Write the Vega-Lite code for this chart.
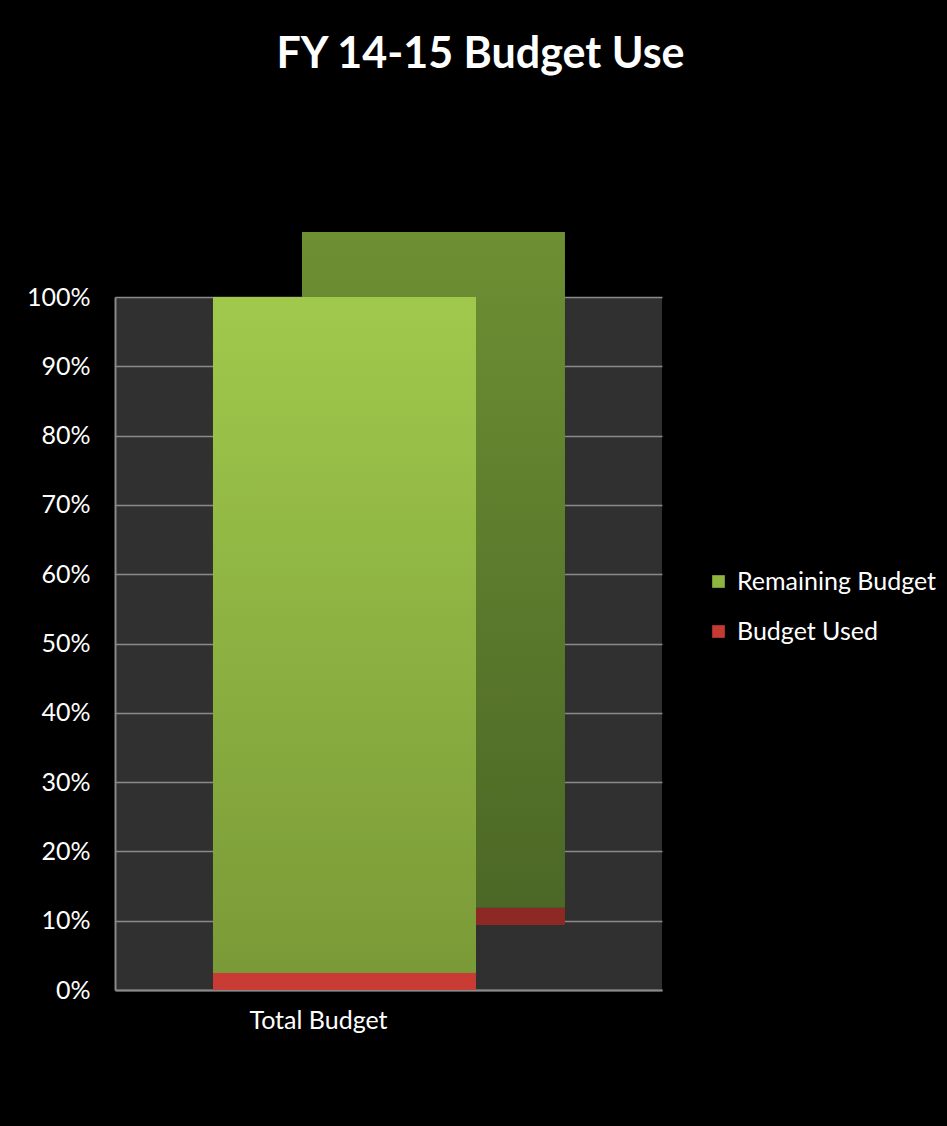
{
  "$schema": "https://vega.github.io/schema/vega-lite/v6.json",
  "autosize": "none",
  "width": 547,
  "height": 693,
  "padding": {"left": 115, "top": 297, "right": 285, "bottom": 136},
  "background": "#000000",
  "title": {
    "text": "FY 14-15 Budget Use",
    "font": "Lato",
    "fontSize": 43,
    "fontWeight": "bold",
    "color": "#ffffff",
    "anchor": "middle",
    "dx": 92,
    "offset": 155
  },
  "config": {
    "view": {"fill": "#303030", "stroke": null},
    "font": "Lato"
  },
  "data": {
    "values": [
      {"category": "Total Budget", "segment": "Budget Used", "value": 0.025, "order": 1},
      {"category": "Total Budget", "segment": "Remaining Budget", "value": 0.975, "order": 2}
    ]
  },
  "encoding": {
    "x": {
      "field": "category",
      "type": "nominal",
      "title": null,
      "scale": {"paddingInner": 0, "paddingOuter": 0.54, "align": 0.345},
      "axis": {
        "labelAngle": 0,
        "labelFontSize": 25,
        "labelColor": "#ffffff",
        "labelPadding": 18,
        "labelOffset": -26,
        "ticks": false,
        "domainColor": "#8a8a8a",
        "domainWidth": 2
      }
    },
    "y": {
      "field": "value",
      "type": "quantitative",
      "stack": "zero",
      "title": null,
      "scale": {"domain": [0, 1]},
      "axis": {
        "values": [0, 0.1, 0.2, 0.3, 0.4, 0.5, 0.6, 0.7, 0.8, 0.9, 1],
        "format": ".0%",
        "labelFontSize": 25,
        "labelColor": "#ffffff",
        "labelPadding": 25,
        "ticks": false,
        "domainColor": "#8a8a8a",
        "domainWidth": 2,
        "grid": true,
        "gridColor": "#8a8a8a",
        "gridWidth": 1.5
      }
    },
    "order": {"field": "order", "type": "quantitative"}
  },
  "layer": [
    {
      "mark": {"type": "bar", "xOffset": 89, "yOffset": -65},
      "encoding": {
        "fill": {
          "condition": {"test": "datum.segment === 'Budget Used'", "value": "#8e2824"},
          "value": {
            "gradient": "linear", "x1": 0, "y1": 0, "x2": 0, "y2": 1,
            "stops": [{"offset": 0, "color": "#6e8f33"}, {"offset": 1, "color": "#4c6826"}]
          }
        }
      }
    },
    {
      "mark": {"type": "bar"},
      "encoding": {
        "color": {
          "field": "segment",
          "type": "nominal",
          "scale": {"domain": ["Remaining Budget", "Budget Used"], "range": ["#8db540", "#c63a34"]},
          "legend": {
            "title": null,
            "orient": "none",
            "legendX": 591,
            "legendY": 272,
            "symbolType": "square",
            "symbolSize": 160,
            "symbolStrokeWidth": 0,
            "labelFontSize": 25,
            "labelLimit": 400,
            "labelColor": "#ffffff",
            "rowPadding": 24,
            "labelOffset": 6
          }
        }
      }
    },
    {
      "mark": {"type": "bar"},
      "encoding": {
        "fill": {
          "condition": {"test": "datum.segment === 'Budget Used'", "value": "#c93c36"},
          "value": {
            "gradient": "linear", "x1": 0, "y1": 0, "x2": 0, "y2": 1,
            "stops": [{"offset": 0, "color": "#a0c94c"}, {"offset": 1, "color": "#7a9a37"}]
          }
        }
      }
    }
  ]
}
